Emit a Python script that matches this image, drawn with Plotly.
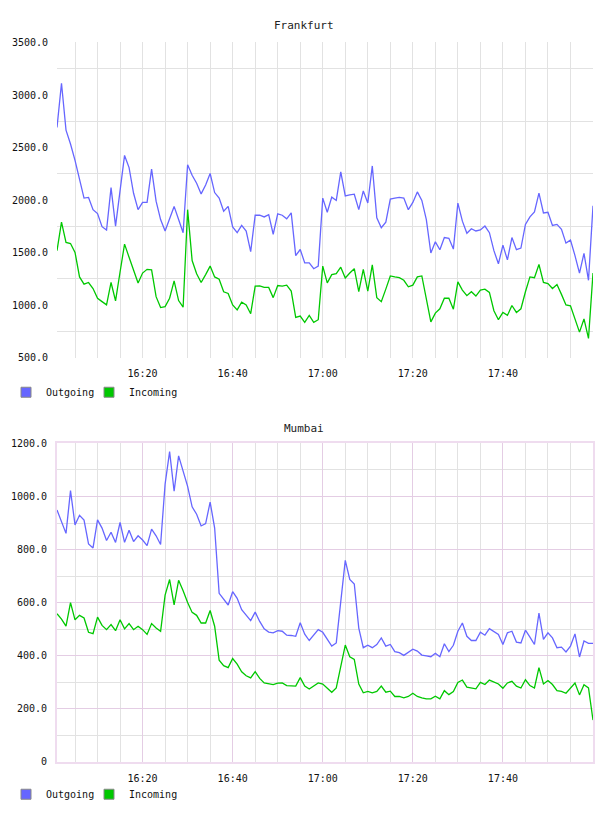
import pandas as pd
import plotly.graph_objects as go

times = pd.date_range("2024-01-01 16:01", periods=120, freq="1min")

fra_out = [2691, 3112, 2666, 2534, 2378, 2190, 2019, 2025, 1909, 1872,
           1747, 1716, 2119, 1753, 2100, 2425, 2309, 2065, 1909, 1978,
           1978, 2294, 1990, 1815, 1706, 1822, 1940, 1815, 1690, 2337,
           2237, 2160, 2059, 2144, 2253, 2072, 2019, 1894, 1940, 1744,
           1690, 1759, 1706, 1509, 1856, 1856, 1840, 1862, 1675, 1869,
           1856, 1822, 1878, 1472, 1530, 1403, 1402, 1347, 1372, 2019,
           1884, 2028, 1997, 2269, 2040, 2050, 2056, 1909, 2087, 1972,
           2325, 1831, 1737, 1790, 2009, 2019, 2025, 2019, 1909, 1978,
           2078, 1997, 1815, 1497, 1603, 1528, 1644, 1637, 1534, 1972,
           1800, 1684, 1728, 1706, 1716, 1753, 1690, 1519, 1394, 1572,
           1431, 1644, 1528, 1544, 1769, 1840, 1887, 2066, 1878, 1884,
           1759, 1769, 1722, 1591, 1619, 1472, 1306, 1494, 1237, 1947]

fra_in = [1519, 1791, 1597, 1587, 1503, 1269, 1200, 1216, 1159, 1066,
          1034, 1003, 1216, 1041, 1316, 1581, 1456, 1331, 1212, 1306,
          1341, 1337, 1081, 978, 987, 1066, 1231, 1044, 981, 1909,
          1425, 1300, 1216, 1291, 1372, 1269, 1247, 1128, 1112, 1003,
          956, 1028, 1003, 919, 1181, 1184, 1169, 1169, 1072, 1187,
          1181, 1191, 1134, 884, 897, 837, 902, 837, 862, 1372,
          1212, 1291, 1300, 1362, 1259, 1306, 1347, 1128, 1341, 1134,
          1384, 1072, 1034, 1153, 1278, 1269, 1262, 1237, 1175, 1191,
          1269, 1278, 1066, 841, 925, 966, 1066, 1066, 962, 1222,
          1144, 1091, 1128, 1087, 1144, 1153, 1122, 947, 862, 931,
          903, 997, 931, 966, 1128, 1269, 1262, 1387, 1216, 1206,
          1159, 1197, 1103, 1003, 994, 878, 744, 869, 684, 1306]

mum_out = [949, 908, 861, 1022, 893, 929, 911, 821, 806, 912,
           881, 834, 865, 827, 902, 827, 873, 830, 852, 836,
           815, 877, 852, 819, 1047, 1169, 1020, 1153, 1094, 1038,
           961, 933, 889, 898, 979, 881, 635, 612, 591, 641,
           616, 573, 552, 532, 564, 529, 501, 489, 486, 494,
           492, 477, 476, 473, 524, 481, 457, 477, 498, 488,
           463, 436, 448, 600, 759, 687, 670, 504, 430, 439,
           430, 442, 467, 436, 442, 415, 411, 401, 411, 424,
           417, 402, 399, 396, 409, 396, 445, 415, 439, 492,
           523, 473, 457, 457, 488, 477, 502, 492, 480, 442,
           486, 492, 451, 448, 496, 470, 442, 560, 461, 486,
           467, 430, 432, 414, 436, 482, 395, 455, 446, 446]

mum_in = [558, 538, 511, 600, 535, 552, 542, 488, 483, 545,
          514, 498, 517, 494, 535, 501, 521, 498, 511, 498,
          480, 521, 504, 492, 628, 687, 591, 684, 645, 600,
          563, 552, 523, 523, 570, 511, 383, 362, 355, 389,
          368, 339, 324, 316, 340, 314, 297, 293, 291, 296,
          297, 287, 285, 285, 317, 285, 274, 285, 297, 293,
          277, 262, 278, 362, 440, 396, 386, 293, 260, 265,
          260, 265, 285, 262, 266, 246, 246, 241, 246, 258,
          246, 241, 237, 237, 247, 237, 268, 253, 265, 299,
          308, 281, 278, 275, 299, 291, 308, 302, 293, 277,
          297, 303, 285, 278, 309, 287, 278, 355, 293, 306,
          291, 268, 265, 258, 278, 297, 252, 290, 278, 157]

fra_ticks = [500, 1000, 1500, 2000, 2500, 3000, 3500]
fra_labels = ["500.0", "1000.0", "1500.0", "2000.0", "2500.0", "3000.0", "3500.0"]
mum_ticks = [0, 200, 400, 600, 800, 1000, 1200]
mum_labels = ["0", "200.0", "400.0", "600.0", "800.0", "1000.0", "1200.0"]
series_names = ["Outgoing", "Incoming"]

BLUE = "#6666ff"
GREEN = "#00c800"
GREY = "#e2e2e2"
PINK = "#e4cde4"
BORDER = "#efdcef"
FONT = "DejaVu Sans Mono"
W, H = 608, 816

fig = go.Figure()

panels = [("x", "y", ("legend", "legend3"), fra_out, fra_in),
          ("x2", "y2", ("legend2", "legend4"), mum_out, mum_in)]
for xa, ya, legs, outs, ins in panels:
    for vals, col in [(outs, BLUE), (ins, GREEN)]:
        fig.add_trace(go.Scatter(x=times, y=vals, mode="lines", xaxis=xa, yaxis=ya,
                                 line=dict(color=col, width=1.3), showlegend=False,
                                 hoverinfo="skip"))
    for name, col, leg in [(series_names[0], BLUE, legs[0]), (series_names[1], GREEN, legs[1])]:
        fig.add_trace(go.Scatter(x=[None], y=[None], mode="markers", xaxis=xa, yaxis=ya,
                                 name=name, legend=leg,
                                 marker=dict(symbol="square", size=10, color=col,
                                             line=dict(color="#888888", width=1))))

x_range = [pd.Timestamp("2024-01-01 16:01"), pd.Timestamp("2024-01-01 18:00")]
xdom = [57 / W, 593 / W]
tickfont = dict(family=FONT, size=10, color="#111111")

common_x = dict(range=x_range, domain=xdom, tickformat="%H:%M",
                tick0="2024-01-01 16:00", dtick=20 * 60 * 1000,
                ticks="outside", ticklen=6, tickcolor="rgba(0,0,0,0)",
                tickfont=tickfont, zeroline=False, fixedrange=True)


def legend_at(px, py):
    return dict(orientation="h", x=px / W, xanchor="left", y=(H - py) / H, yanchor="middle",
                font=dict(family=FONT, size=10, color="#111111"),
                bgcolor="rgba(0,0,0,0)", itemclick=False, itemdoubleclick=False)


fig.update_layout(
    width=W, height=H,
    margin=dict(l=0, r=0, t=0, b=0),
    paper_bgcolor="white", plot_bgcolor="white",
    font=dict(family=FONT, size=10, color="#111111"),
    xaxis=dict(**common_x, anchor="y", showgrid=True, gridcolor=GREY, gridwidth=1,
               minor=dict(dtick=5 * 60 * 1000, tick0="2024-01-01 16:00",
                          showgrid=True, gridcolor=GREY)),
    yaxis=dict(domain=[(H - 357) / H, (H - 37) / H], range=[500, 3500],
               tickvals=fra_ticks, ticktext=fra_labels, showgrid=False,
               ticks="outside", ticklen=6, tickcolor="rgba(0,0,0,0)",
               tickfont=tickfont, zeroline=False, anchor="x", fixedrange=True,
               minor=dict(tick0=250, dtick=500, showgrid=True, gridcolor=GREY)),
    xaxis2=dict(**common_x, anchor="y2", showgrid=True, gridcolor=PINK, gridwidth=1,
                showline=True, linecolor=BORDER, linewidth=2, mirror=True,
                minor=dict(dtick=5 * 60 * 1000, tick0="2024-01-01 16:00",
                           showgrid=True, gridcolor=GREY)),
    yaxis2=dict(domain=[(H - 767) / H, (H - 444) / H], range=[0, 1200],
                tickvals=mum_ticks, ticktext=mum_labels, showgrid=True, gridcolor=PINK,
                showline=True, linecolor=BORDER, linewidth=2, mirror=True,
                ticks="outside", ticklen=6, tickcolor="rgba(0,0,0,0)",
                tickfont=tickfont, zeroline=False, anchor="x2", fixedrange=True,
                minor=dict(tick0=100, dtick=200, showgrid=True, gridcolor=GREY)),
    legend=legend_at(6, 392),
    legend3=legend_at(89, 392),
    legend2=legend_at(6, 800),
    legend4=legend_at(89, 800),
    annotations=[
        dict(text="Frankfurt", x=304 / W, y=(H - 20) / H, xref="paper", yref="paper",
             xanchor="center", yanchor="middle",
             showarrow=False, font=dict(family=FONT, size=11, color="#222222")),
        dict(text="Mumbai", x=304 / W, y=(H - 429) / H, xref="paper", yref="paper",
             xanchor="center", yanchor="middle",
             showarrow=False, font=dict(family=FONT, size=11, color="#222222")),
    ],
)

fig.write_html("out.html")
